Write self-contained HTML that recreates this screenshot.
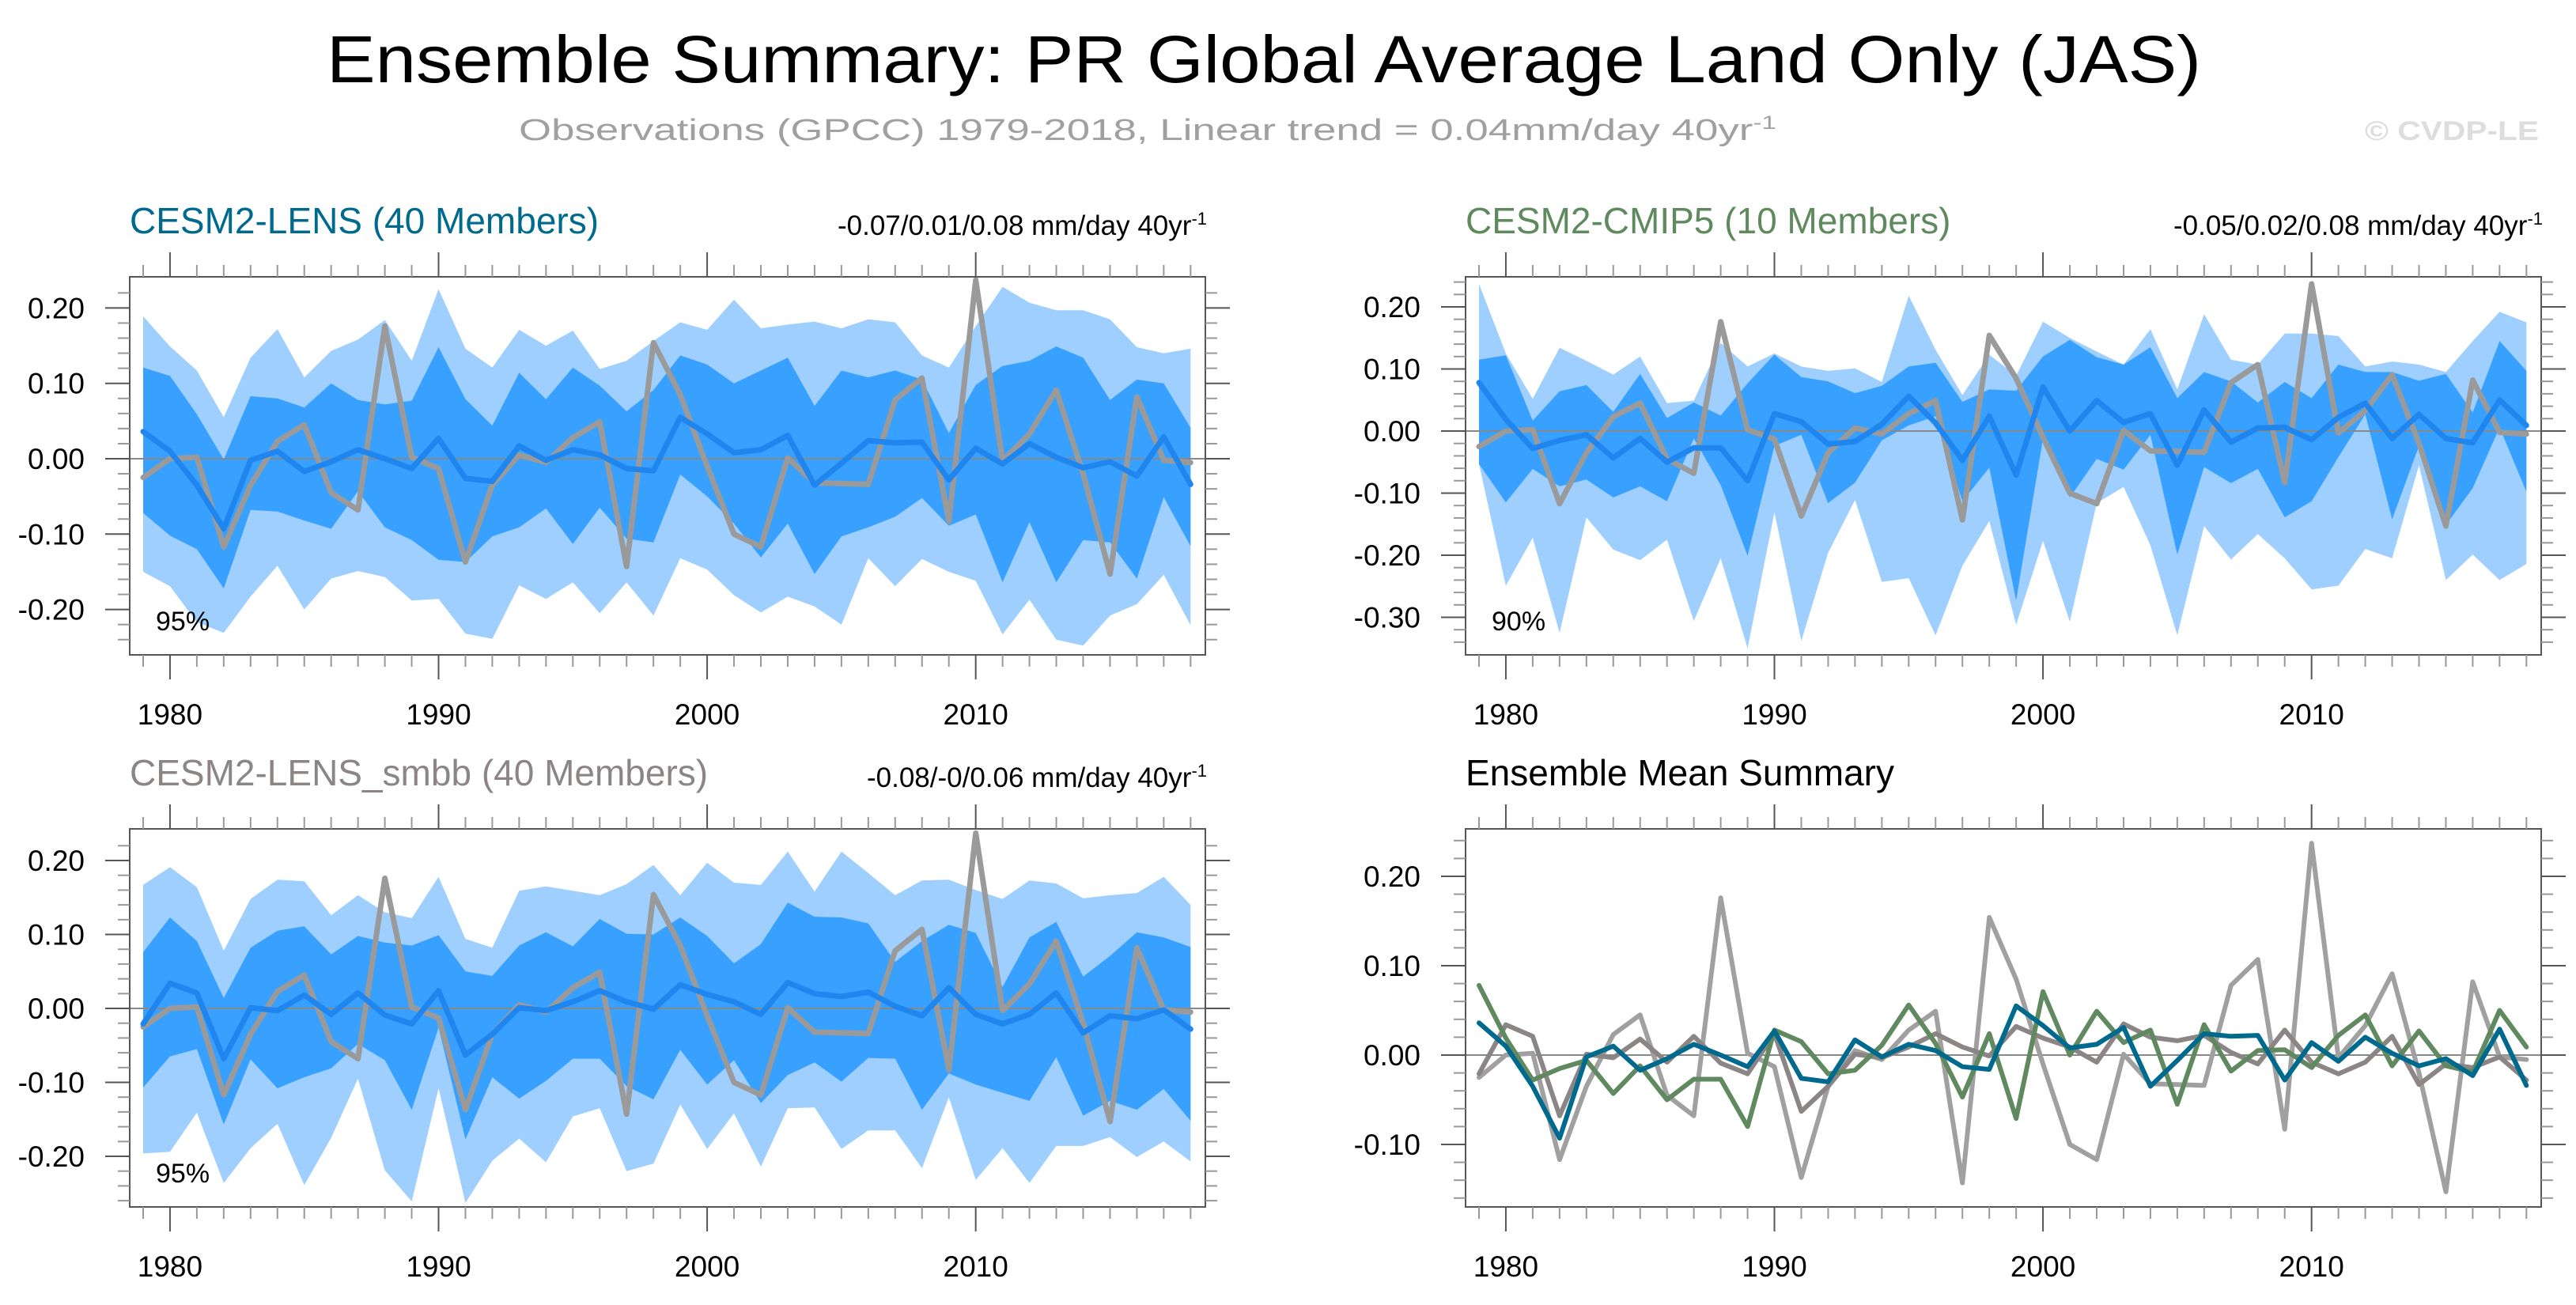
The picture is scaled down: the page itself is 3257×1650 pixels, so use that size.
<!DOCTYPE html>
<html><head><meta charset="utf-8"><style>
html,body{margin:0;padding:0;background:#fff;}
svg{display:block;font-family:"Liberation Sans",Arial,sans-serif;}
</style></head><body>
<svg id="chart" width="3257" height="1650" viewBox="0 0 3257 1650" xmlns="http://www.w3.org/2000/svg">
<rect width="3257" height="1650" fill="#fff"/>
<text x="1598" y="104" font-size="84" text-anchor="middle" textLength="2370" lengthAdjust="spacingAndGlyphs">Ensemble Summary: PR Global Average Land Only (JAS)</text>
<text x="656" y="177" font-size="38" fill="#a0a0a0" textLength="1590" lengthAdjust="spacingAndGlyphs">Observations (GPCC) 1979-2018, Linear trend = 0.04mm/day 40yr<tspan dy="-14" font-size="24">-1</tspan></text>
<text x="2990" y="177" font-size="34" font-weight="bold" fill="#dddddd" textLength="220" lengthAdjust="spacingAndGlyphs">© CVDP-LE</text>
<g id="plots"></g>
</svg>
<script>
const years = [];
for (let y = 1979; y <= 2018; y++) years.push(y);
const xTickLabels = ["1980","1990","2000","2010"];

const obs = [-0.025,0.000,0.002,-0.117,-0.035,0.023,0.045,-0.045,-0.068,0.176,0.002,-0.013,-0.137,-0.035,0.005,-0.005,0.028,0.049,-0.143,0.154,0.085,-0.010,-0.100,-0.117,0.001,-0.032,-0.033,-0.034,0.078,0.107,-0.083,0.237,-0.003,0.033,0.091,-0.020,-0.153,0.082,-0.002,-0.005];

// CESM2-LENS
const lensMean = [0.036,0.010,-0.035,-0.093,-0.002,0.010,-0.017,-0.004,0.012,0.000,-0.013,0.027,-0.026,-0.030,0.017,-0.002,0.012,0.005,-0.013,-0.016,0.055,0.033,0.008,0.012,0.031,-0.035,-0.006,0.024,0.021,0.022,-0.028,0.014,-0.007,0.020,0.002,-0.012,-0.004,-0.023,0.029,-0.034];
const lensHi95 = [0.189,0.149,0.117,0.055,0.134,0.172,0.108,0.143,0.158,0.184,0.130,0.225,0.146,0.121,0.171,0.150,0.170,0.119,0.130,0.156,0.181,0.171,0.211,0.173,0.178,0.182,0.173,0.185,0.181,0.137,0.121,0.176,0.228,0.207,0.197,0.197,0.185,0.148,0.140,0.146];
const lensHi66 = [0.121,0.110,0.059,-0.001,0.083,0.080,0.068,0.100,0.078,0.072,0.077,0.148,0.079,0.044,0.114,0.079,0.121,0.097,0.063,0.091,0.137,0.125,0.100,0.117,0.134,0.070,0.117,0.108,0.117,0.105,0.034,0.098,0.123,0.130,0.149,0.134,0.078,0.105,0.100,0.041];
const lensLo66 = [-0.072,-0.102,-0.120,-0.172,-0.068,-0.070,-0.082,-0.093,-0.043,-0.091,-0.108,-0.134,-0.137,-0.103,-0.091,-0.066,-0.113,-0.065,-0.106,-0.111,-0.021,-0.050,-0.086,-0.131,-0.086,-0.153,-0.103,-0.091,-0.077,-0.052,-0.089,-0.074,-0.164,-0.084,-0.164,-0.108,-0.111,-0.159,-0.051,-0.116];
const lensLo95 = [-0.150,-0.169,-0.217,-0.231,-0.183,-0.142,-0.200,-0.159,-0.149,-0.157,-0.188,-0.186,-0.232,-0.239,-0.168,-0.186,-0.164,-0.205,-0.164,-0.208,-0.132,-0.147,-0.181,-0.204,-0.183,-0.196,-0.220,-0.132,-0.169,-0.133,-0.150,-0.162,-0.233,-0.187,-0.240,-0.248,-0.208,-0.193,-0.154,-0.221];

// CESM2-CMIP5
const cmipMean = [0.078,0.019,-0.028,-0.015,-0.006,-0.043,-0.012,-0.050,-0.027,-0.027,-0.080,0.028,0.015,-0.021,-0.017,0.011,0.056,0.013,-0.047,0.024,-0.071,0.071,0.000,0.049,0.014,0.028,-0.055,0.034,-0.018,0.005,0.006,-0.014,0.022,0.045,-0.012,0.027,-0.012,-0.019,0.050,0.009];
const cmipHi90 = [0.237,0.125,0.052,0.134,0.113,0.091,0.120,0.045,0.049,0.142,0.104,0.125,0.104,0.097,0.101,0.079,0.218,0.131,0.058,0.123,0.089,0.176,0.150,0.128,0.107,0.164,0.067,0.188,0.115,0.107,0.157,0.157,0.153,0.104,0.112,0.107,0.095,0.145,0.192,0.175];
const cmipHi66 = [0.115,0.122,0.017,0.064,0.074,0.031,0.092,0.021,0.046,0.025,0.077,0.123,0.087,0.080,0.061,0.073,0.104,0.110,0.047,0.067,0.065,0.120,0.147,0.119,0.107,0.135,0.053,0.095,0.080,0.046,0.079,0.053,0.107,0.095,0.095,0.081,0.092,0.030,0.145,0.097];
const cmipLo66 = [-0.053,-0.115,-0.061,-0.089,-0.078,-0.107,-0.089,-0.113,-0.012,-0.087,-0.201,-0.024,-0.006,-0.116,-0.083,-0.015,0.009,0.024,-0.113,-0.059,-0.273,-0.012,-0.107,-0.045,-0.062,-0.006,-0.199,-0.058,-0.084,-0.061,-0.139,-0.113,-0.042,0.027,-0.142,-0.024,-0.151,-0.092,0.006,-0.098];
const cmipLo90 = [-0.053,-0.249,-0.172,-0.325,-0.139,-0.191,-0.208,-0.175,-0.306,-0.205,-0.350,-0.131,-0.338,-0.196,-0.111,-0.243,-0.237,-0.329,-0.217,-0.145,-0.312,-0.177,-0.307,-0.116,-0.090,-0.184,-0.329,-0.153,-0.207,-0.166,-0.205,-0.255,-0.249,-0.190,-0.205,-0.055,-0.240,-0.199,-0.240,-0.214];

// CESM2-LENS_smbb
const smbbMean = [-0.021,0.034,0.021,-0.068,0.001,-0.003,0.018,-0.008,0.021,-0.009,-0.021,0.024,-0.063,-0.035,0.001,-0.003,0.009,0.024,0.009,-0.001,0.032,0.019,0.009,-0.008,0.035,0.020,0.016,0.022,0.003,-0.010,0.028,-0.008,-0.021,-0.008,0.021,-0.033,-0.010,-0.014,-0.002,-0.028];
const smbbHi95 = [0.167,0.191,0.164,0.078,0.148,0.174,0.172,0.126,0.153,0.130,0.122,0.178,0.094,0.082,0.159,0.165,0.159,0.153,0.168,0.194,0.153,0.197,0.170,0.167,0.212,0.158,0.212,0.183,0.153,0.173,0.174,0.160,0.148,0.173,0.169,0.149,0.153,0.156,0.178,0.140];
const smbbHi66 = [0.076,0.123,0.091,0.014,0.082,0.105,0.111,0.073,0.098,0.089,0.085,0.099,0.050,0.044,0.085,0.103,0.084,0.121,0.101,0.100,0.123,0.098,0.061,0.087,0.143,0.124,0.123,0.115,0.063,0.091,0.113,0.102,0.029,0.096,0.117,0.043,0.071,0.103,0.096,0.083];
const smbbLo66 = [-0.107,-0.065,-0.055,-0.157,-0.069,-0.108,-0.093,-0.081,-0.048,-0.070,-0.137,-0.026,-0.177,-0.093,-0.122,-0.098,-0.068,-0.068,-0.105,-0.123,-0.056,-0.103,-0.070,-0.128,-0.090,-0.073,-0.099,-0.067,-0.068,-0.137,-0.088,-0.103,-0.114,-0.125,-0.066,-0.145,-0.125,-0.137,-0.109,-0.152];
const smbbLo95 = [-0.196,-0.194,-0.141,-0.236,-0.189,-0.156,-0.239,-0.175,-0.095,-0.219,-0.261,-0.108,-0.263,-0.206,-0.176,-0.208,-0.146,-0.135,-0.220,-0.210,-0.130,-0.190,-0.142,-0.214,-0.135,-0.134,-0.190,-0.165,-0.165,-0.216,-0.120,-0.232,-0.189,-0.236,-0.186,-0.186,-0.174,-0.201,-0.180,-0.207];

const yTicksA = [-0.2,-0.1,0,0.1,0.2];
const yTicksB = [-0.3,-0.2,-0.1,0,0.1,0.2];
const yTicksD = [-0.1,0,0.1,0.2];

const NS = "http://www.w3.org/2000/svg";
const root = document.getElementById('plots');
function mk(tag, attrs, parent) {
  const e = document.createElementNS(NS, tag);
  for (const k in attrs) e.setAttribute(k, attrs[k]);
  (parent || root).appendChild(e);
  return e;
}

function panel(cfg) {
  const g = mk('g', {});
  
  
  const L = cfg.left, R = cfg.left + 1360, T = cfg.top, B = cfg.top + 478;
  const x0 = 1978.5, x1 = 2018.55;
  const pxPerUnit = cfg.unit * 100;
  const xs = v => L + (v - x0) / (x1 - x0) * (R - L);
  const ys = v => cfg.zero - v * pxPerUnit;
  function band(hi, lo, col, nm) {
    let d = '';
    years.forEach((yr, i) => { d += (i ? 'L' : 'M') + xs(yr).toFixed(1) + ' ' + ys(hi[i]).toFixed(1); });
    for (let i = years.length - 1; i >= 0; i--) d += 'L' + xs(years[i]).toFixed(1) + ' ' + ys(lo[i]).toFixed(1);
    const p = mk('path', {d: d + 'Z', fill: col}, g);
    
    
  }
  function line(vals, col, w, nm) {
    const pts = years.map((yr, i) => xs(yr).toFixed(1) + ',' + ys(vals[i]).toFixed(1)).join(' ');
    const p = mk('polyline', {points: pts, fill: 'none', stroke: col, 'stroke-width': w, 'stroke-linejoin': 'round', 'stroke-linecap': 'round'}, g);
    
    
  }
  if (cfg.bands) {
    band(cfg.bands[0], cfg.bands[3], '#9ecfff', 'outer-spread-band');
    band(cfg.bands[1], cfg.bands[2], '#38a0ff', 'inner-spread-band');
  }
  const zl = mk('line', {x1: L, x2: R, y1: ys(0), y2: ys(0), stroke: '#888', 'stroke-width': 2}, g);
  
  
  cfg.lines.forEach(l => line(l.v, l.c, l.w, l.n));
  const fr = mk('rect', {x: L, y: T, width: R - L, height: B - T, fill: 'none', stroke: '#555', 'stroke-width': 2}, g);
  
  
  years.forEach(yr => {
    const major = yr % 10 === 0;
    const len = major ? 31 : 15;
    const x = xs(yr);
    mk('line', {x1: x, x2: x, y1: T, y2: T - len, stroke: major ? '#555' : '#999', 'stroke-width': 2}, g);
    mk('line', {x1: x, x2: x, y1: B, y2: B + len, stroke: major ? '#555' : '#999', 'stroke-width': 2}, g);
  });
  xTickLabels.forEach(lb => {
    const t = mk('text', {x: xs(+lb), y: B + 88, 'font-size': 37, 'text-anchor': 'middle'}, g);
    t.textContent = lb;
    
    
  });
  const vmax = (cfg.zero - T) / pxPerUnit, vmin = -(B - cfg.zero) / pxPerUnit;
  for (let k = Math.ceil(vmin * 50 + 0.3); k <= Math.floor(vmax * 50 - 0.3); k++) {
    const v = k / 50, y = ys(v);
    const major = k % 5 === 0;
    const len = major ? 31 : 15;
    mk('line', {x1: L, x2: L - len, y1: y, y2: y, stroke: major ? '#555' : '#999', 'stroke-width': 2}, g);
    mk('line', {x1: R, x2: R + len, y1: y, y2: y, stroke: major ? '#555' : '#999', 'stroke-width': 2}, g);
  }
  cfg.yt.forEach(v => {
    const t = mk('text', {x: L - 57, y: ys(v) + 13, 'font-size': 37, 'text-anchor': 'end'}, g);
    t.textContent = v.toFixed(2);
    
    
  });
  const tt = mk('text', {x: L, y: T - 55, 'font-size': 46, fill: cfg.tcol}, g);
  tt.textContent = cfg.title;
  
  
  if (cfg.trend) {
    const tr = mk('text', {x: R + 2, y: T - 53, 'font-size': 35, 'text-anchor': 'end'}, g);
    
    
    tr.appendChild(document.createTextNode(cfg.trend + ' mm/day 40yr'));
    const sp = mk('tspan', {dy: -13, 'font-size': 22}, tr);
    sp.textContent = '-1';
  }
  if (cfg.pct) {
    const pt = mk('text', {x: L + 33, y: B - 31, 'font-size': 34}, g);
    pt.textContent = cfg.pct;
    
    
  }
}

const meanBlue = '#1f86ef', obsGray = '#9a9a9a';
panel({name: 'cesm2-lens-panel', left: 164, top: 350, zero: 580, unit: 9.53, yt: yTicksA,
  title: 'CESM2-LENS (40 Members)', tcol: '#006a8e', trend: '-0.07/0.01/0.08', pct: '95%',
  bands: [lensHi95, lensHi66, lensLo66, lensLo95],
  lines: [{v: obs, c: obsGray, w: 7, n: 'observations-line'}, {v: lensMean, c: meanBlue, w: 7, n: 'ensemble-mean-line'}]});
panel({name: 'cesm2-cmip5-panel', left: 1853, top: 350, zero: 545, unit: 7.85, yt: yTicksB,
  title: 'CESM2-CMIP5 (10 Members)', tcol: '#5f8a5e', trend: '-0.05/0.02/0.08', pct: '90%',
  bands: [cmipHi90, cmipHi66, cmipLo66, cmipLo90],
  lines: [{v: obs, c: obsGray, w: 7, n: 'observations-line'}, {v: cmipMean, c: meanBlue, w: 7, n: 'ensemble-mean-line'}]});
panel({name: 'cesm2-lens-smbb-panel', left: 164, top: 1048, zero: 1275, unit: 9.35, yt: yTicksA,
  title: 'CESM2-LENS_smbb (40 Members)', tcol: '#8c8586', trend: '-0.08/-0/0.06', pct: '95%',
  bands: [smbbHi95, smbbHi66, smbbLo66, smbbLo95],
  lines: [{v: obs, c: obsGray, w: 7, n: 'observations-line'}, {v: smbbMean, c: meanBlue, w: 7, n: 'ensemble-mean-line'}]});
panel({name: 'ensemble-mean-summary-panel', left: 1853, top: 1048, zero: 1334, unit: 11.3, yt: yTicksD,
  title: 'Ensemble Mean Summary', tcol: '#000',
  lines: [{v: obs, c: '#a0a0a0', w: 6, n: 'observations-line'},
          {v: smbbMean, c: '#8c8586', w: 6, n: 'smbb-mean-line'},
          {v: cmipMean, c: '#60895f', w: 6, n: 'cmip5-mean-line'},
          {v: lensMean, c: '#006a8e', w: 6, n: 'lens-mean-line'}]});
</script>
</body></html>
